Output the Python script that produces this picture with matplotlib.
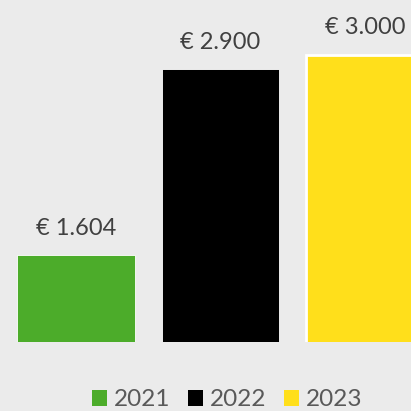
import matplotlib
matplotlib.use("Agg")
import matplotlib.pyplot as plt
from matplotlib.patches import Patch

years = ["2021", "2022", "2023"]
values = [1604, 2900, 3000]
labels = ["€ 1.604", "€ 2.900", "€ 3.000"]
colors = ["#4CAC2A", "#000000", "#FFDF1B"]

bg = "#EBEBEB"
plt.rcParams['font.family'] = ['Lato', 'DejaVu Sans']

fig = plt.figure(figsize=(4.11, 4.11), dpi=100, facecolor=bg)
ax = fig.add_axes([0, 69 / 411, 1, 342 / 411])
ax.set_facecolor(bg)

x = list(range(len(years)))
ax.bar(x, values, width=0.81, bottom=0, color=colors,
       edgecolor="white", linewidth=[0.6, 0.6, 2.0])
ax.set_xlim(-76 / 144.5, (411 - 76) / 144.5)
ax.set_ylim(1000, 1000 + 342 / 0.1435)
for xi, v, lab in zip(x, values, labels):
    ax.annotate(lab, (xi, v), xytext=(0, 12), textcoords="offset points",
                ha="center", va="bottom", fontsize=17, color="#404040")
ax.axis("off")

handles = [Patch(facecolor=c, edgecolor="none") for c in colors]
leg = fig.legend(handles, years, loc="center", bbox_to_anchor=(0.553, 0.027),
                 ncol=3, frameon=False, fontsize=17.5, handlelength=0.62,
                 handleheight=0.62, handletextpad=0.28, columnspacing=0.72,
                 borderpad=0, borderaxespad=0)
for t in leg.get_texts():
    t.set_color("#595959")

fig.savefig("out.png", dpi=100, facecolor=bg)
